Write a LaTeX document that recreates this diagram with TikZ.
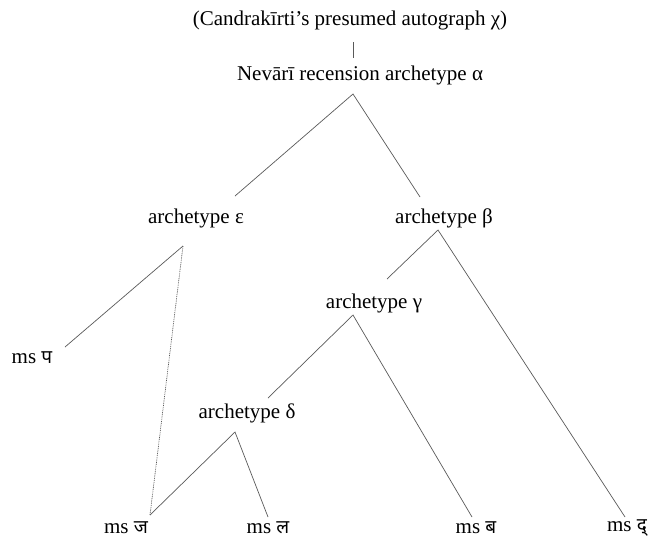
\documentclass[tikz,border=0pt]{standalone}
\usepackage{fontspec}
\setmainfont{Liberation Serif}
\newfontfamily\deva[Script=Devanagari]{Noto Sans}
\tikzset{
  lbl/.style={inner sep=0pt, font=\fontsize{21}{25}\selectfont},
  edge/.style={draw=black!65, line width=0.7pt},
  dotedge/.style={draw=black!65, line width=0.7pt, dash pattern=on 0.9pt off 0.9pt}
}
\begin{document}
\begin{tikzpicture}[x=1pt,y=-1pt]
\useasboundingbox (0,0) rectangle (648,541);
\node[lbl] (chi) at (350,20) {(Candrakīrti’s presumed autograph χ)};
\node[lbl] (alpha) at (360,75) {Nevārī recension archetype α};
\node[lbl] (eps) at (196,218) {archetype ε};
\node[lbl] (beta) at (444,218) {archetype β};
\node[lbl] (gamma) at (374,303) {archetype γ};
\node[lbl] (delta) at (247,413) {archetype δ};
\node[lbl] (pa) at (32,358) {ms {\deva\fontsize{19}{22}\selectfont प}};
\node[lbl] (ja) at (126,528) {ms {\deva\fontsize{19}{22}\selectfont ज}};
\node[lbl] (la) at (268,528) {ms {\deva\fontsize{19}{22}\selectfont ल}};
\node[lbl] (ba) at (476,528) {ms {\deva\fontsize{19}{22}\selectfont ब}};
\node[lbl] (da) at (627,528) {ms {\deva\fontsize{19}{22}\selectfont द्}};
% connector end points
\coordinate (chiB) at (353,42);
\coordinate (alphaT) at (353,58);
\coordinate (alphaB) at (353,94);
\coordinate (epsT) at (235,196);
\coordinate (betaT) at (420,197);
\coordinate (epsB) at (183,246);
\coordinate (paT) at (65,347);
\coordinate (jaT) at (150,515);
\coordinate (betaB) at (438,230);
\coordinate (gammaT) at (387,279);
\coordinate (daT) at (625,517);
\coordinate (gammaB) at (353,315);
\coordinate (deltaT) at (268,398);
\coordinate (baT) at (472,517);
\coordinate (deltaB) at (235,432);
\coordinate (laT) at (268,517);
\draw[edge] (chiB) -- (alphaT);
\draw[edge] (epsT) -- (alphaB) -- (betaT);
\draw[edge] (paT) -- (epsB);
\draw[dotedge] (epsB) -- (jaT);
\draw[edge] (gammaT) -- (betaB) -- (daT);
\draw[edge] (deltaT) -- (gammaB) -- (baT);
\draw[edge] (jaT) -- (deltaB) -- (laT);
\end{tikzpicture}
\end{document}
